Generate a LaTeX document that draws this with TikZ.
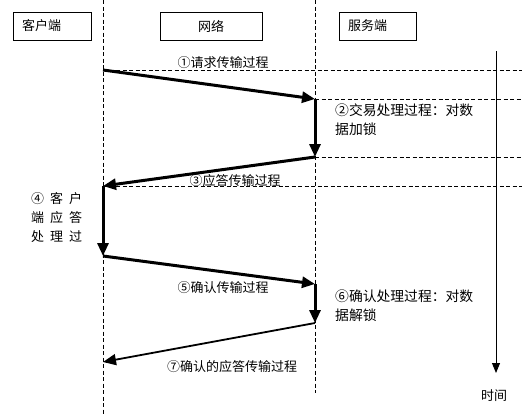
\documentclass[tikz,border=0pt]{standalone}
\usepackage{fontspec}
\setmainfont{Noto Sans CJK SC}
\usetikzlibrary{arrows.meta}
\newcommand{\cell}[1]{\makebox[19pt][l]{#1}}
\begin{document}
\begin{tikzpicture}[x=1pt,y=-1pt,
  every node/.style={font=\fontsize{13}{19}\selectfont},
  box/.style={draw,line width=0.7pt,minimum height=28pt,inner xsep=0pt,inner ysep=0pt},
  life/.style={dash pattern=on 4pt off 2.5pt,line width=0.8pt},
  guide/.style={dash pattern=on 4pt off 2.5pt,line width=0.7pt},
  msg/.style={line width=3pt,-{Triangle[length=13pt,width=11pt]}},
  msgthin/.style={line width=1.8pt,-{Triangle[length=13pt,width=11pt]}},
  lbl/.style={inner sep=0pt,align=left},
  wide/.style={font=\fontsize{13.8}{19}\selectfont}]
\useasboundingbox (0,0) rectangle (526,415);
% boxes
\node[box,minimum width=78pt] (client) at (52,26) {};
\node[lbl,anchor=west] (clientt) at (22,26) {客户端};
\node[box,minimum width=102pt] (net) at (211,26) {网络};
\node[box,minimum width=77pt] (server) at (377.5,26) {};
\node[lbl,anchor=west] (servert) at (348,26) {服务端};
% lifelines
\coordinate (ctop) at (103,0);
\coordinate (cbot) at (103,415);
\coordinate (stop) at (315,0);
\coordinate (sbot) at (315,393);
\draw[life] (ctop) -- (cbot);
\draw[life] (stop) -- (sbot);
% points
\coordinate (c1) at (103,70);
\coordinate (s1) at (315,99);
\coordinate (s2) at (315,157);
\coordinate (c2) at (103,186);
\coordinate (c3) at (103,256);
\coordinate (s3) at (315,284);
\coordinate (s4) at (315,323);
\coordinate (c4) at (103,362);
\coordinate (e1) at (522,70);
\coordinate (e2) at (522,99);
\coordinate (e3) at (522,157);
\coordinate (e4) at (522,186);
% guides
\draw[guide] (c1) -- (e1);
\draw[guide] (s1) -- (e2);
\draw[guide] (s2) -- (e3);
\draw[guide] (c2) -- (e4);
% time axis
\coordinate (t0) at (496,51);
\coordinate (t1) at (496,373);
\draw[line width=0.9pt,-{Triangle[length=10pt,width=8pt]}] (t0) -- (t1);
\node[lbl] (time) at (494,396) {时间};
% messages
\draw[msg] (c1) -- (s1);
\draw[msg] (s1) -- (s2);
\draw[msg] (s2) -- (c2);
\draw[msg] (c2) -- (c3);
\draw[msg] (c3) -- (s3);
\draw[msg] (s3) -- (s4);
\draw[msgthin] (s4) -- (c4);
% labels
\node[lbl] (l1) at (223,63) {①请求传输过程};
\node[lbl,wide,anchor=north west] (l2) at (335,104) {②交易处理过程：对数\\据加锁};
\node[lbl] (l3) at (235,181) {③应答传输过程};
\node[lbl,anchor=north west] (l4) at (31,192) {\cell{④}\cell{客}户\\\cell{端}\cell{应}答\\\cell{处}\cell{理}过};
\node[lbl] (l5) at (223,288) {⑤确认传输过程};
\node[lbl,wide,anchor=north west] (l6) at (335,290) {⑥确认处理过程：对数\\据解锁};
\node[lbl] (l7) at (232,367) {⑦确认的应答传输过程};
\end{tikzpicture}
\end{document}
